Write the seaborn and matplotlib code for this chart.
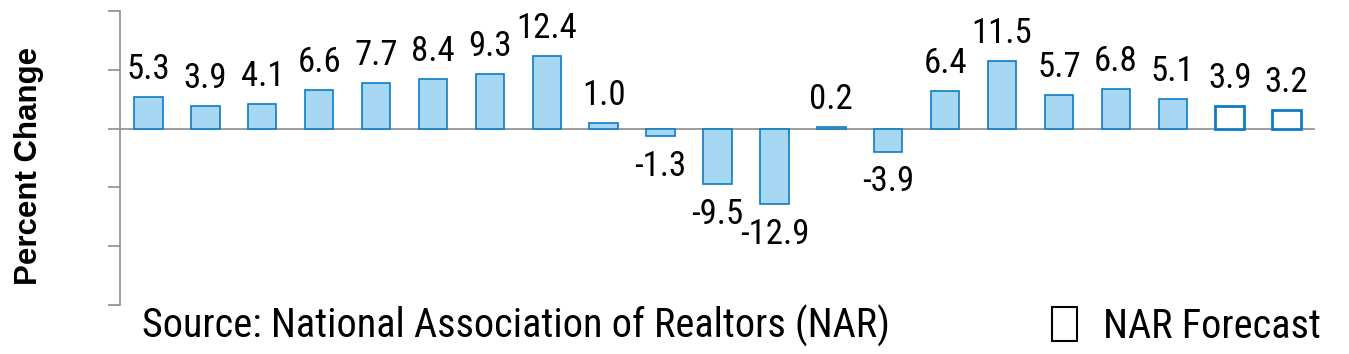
import numpy as np
import pandas as pd
import matplotlib
matplotlib.use("Agg")
import matplotlib.pyplot as plt
import seaborn as sns
from matplotlib.patches import Rectangle

# ------------------------------
# Data
# ------------------------------
periods = [str(i + 1) for i in range(21)]
pct_change = [5.3, 3.9, 4.1, 6.6, 7.7, 8.4, 9.3, 12.4, 1.0, -1.3, -9.5,
              -12.9, 0.2, -3.9, 6.4, 11.5, 5.7, 6.8, 5.1, 3.9, 3.2]
kind = ["Actual"] * 19 + ["NAR Forecast"] * 2

y_ticks = [20, 10, 0, -10, -20, -30]
source_text = "Source: National Association of Realtors (NAR)"
legend_text = "NAR Forecast"

fill_blue = "#A6D7F3"
edge_blue = "#0E7CC4"
grey = "#8C8C8C"

df = pd.DataFrame({"period": periods, "pct": pct_change, "kind": kind})

# ------------------------------
# Figure
# ------------------------------
sns.set_style("white")
narrow = ["Roboto Condensed", "Archivo Narrow", "DejaVu Sans"]
plt.rcParams["font.family"] = narrow
plt.rcParams["text.color"] = "black"

W, H = 1349, 354
fig = plt.figure(figsize=(W / 100, H / 100), dpi=100)
ax = fig.add_axes([120 / W, 1 - 305 / H, 1195 / W, 294 / H])

sns.barplot(data=df, x="period", y="pct", hue="kind",
            palette={"Actual": fill_blue, "NAR Forecast": "white"},
            dodge=False, width=0.5, saturation=1, edgecolor=edge_blue, linewidth=1.2,
            legend=False, ax=ax)

# forecast bars have a thicker outline
for p, k in zip(ax.patches, df["kind"]):
    if k == "NAR Forecast":
        p.set_linewidth(2.0)

# value labels
for i, v in enumerate(pct_change):
    if v >= 0:
        ax.annotate(f"{v:.1f}", (i, v), xytext=(0, 8), textcoords="offset points",
                    ha="center", va="bottom", fontsize=25, color="black")
    else:
        ax.annotate(f"{v:.1f}", (i, v), xytext=(0, -10), textcoords="offset points",
                    ha="center", va="top", fontsize=25, color="black")

ax.axhline(0, color=grey, lw=1.2, zorder=0)
ax.set_xlim(-0.5, 20.5)
ax.set_ylim(-30, 20)
ax.set_yticks(y_ticks)
ax.set_yticklabels([])
ax.set_xticks([])
ax.set_xlabel("")
ax.set_ylabel("")
ax.tick_params(axis="y", direction="out", length=9, width=1.2, color=grey, left=True)

for s in ["top", "right", "bottom"]:
    ax.spines[s].set_visible(False)
ax.spines["left"].set_color(grey)
ax.spines["left"].set_linewidth(1.2)

# y label
fig.text(29 / W, 1 - 166 / H, "Percent Change", rotation=90, ha="center", va="center",
         fontsize=22.5, fontweight="bold", family=["Liberation Sans", "DejaVu Sans"])

# source note and legend at the bottom
fig.text(142 / W, 1 - 338 / H, source_text, fontsize=29, ha="left", va="baseline")
fig.patches.append(Rectangle((1052 / W, 1 - 341 / H), 25 / W, 34 / H,
                             transform=fig.transFigure, facecolor="white",
                             edgecolor="black", linewidth=1.5))
fig.text(1103 / W, 1 - 338 / H, legend_text, fontsize=29, ha="left", va="baseline")

fig.savefig("out.png", dpi=100)
